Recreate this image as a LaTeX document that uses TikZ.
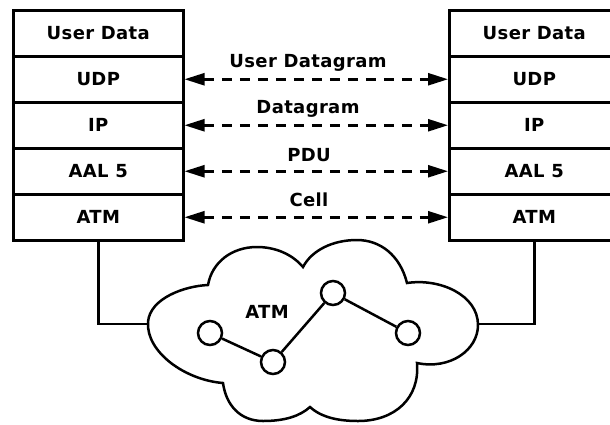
\documentclass[tikz,border=0pt]{standalone}
\usepackage{fontspec}
\setmainfont{DejaVu Sans Bold}[LetterSpace=2]
\usetikzlibrary{arrows.meta}
\begin{document}
\begin{tikzpicture}[x=1pt,y=-1pt,
  line width=2.5pt,
  txt/.style={font=\fontsize{18}{21}\selectfont},
  layer/.style={txt, draw, rectangle, minimum width=170pt, minimum height=46pt,
    inner sep=0pt, anchor=north west},
  peer/.style={dashed, dash pattern=on 10pt off 8pt,
    {Triangle[length=20pt,width=12pt]}-{Triangle[length=20pt,width=12pt]}},
  lbl/.style={txt, inner sep=0pt},
  hop/.style={draw, circle, minimum size=24pt, inner sep=0pt}]
\useasboundingbox (0,0) rectangle (610,424);

% left protocol stack
\node[layer] (lusr) at (12,9)   {User Data};
\node[layer] (ludp) at (12,55)  {UDP};
\node[layer] (lip)  at (12,101) {IP};
\node[layer] (laal) at (12,147) {AAL 5};
\node[layer] (latm) at (12,193) {ATM};

% right protocol stack
\node[layer] (rusr) at (448,9)   {User Data};
\node[layer] (rudp) at (448,55)  {UDP};
\node[layer] (rip)  at (448,101) {IP};
\node[layer] (raal) at (448,147) {AAL 5};
\node[layer] (ratm) at (448,193) {ATM};

% peer-to-peer exchanges
\draw[peer] (ludp.east) -- (rudp.west);
\draw[peer] (lip.east)  -- (rip.west);
\draw[peer] (laal.east) -- (raal.west);
\draw[peer] (latm.east) -- (ratm.west);
\node[lbl] (tudg) at (308,63)  {User Datagram};
\node[lbl] (tdg)  at (308,109) {Datagram};
\node[lbl] (tpdu) at (309,155) {PDU};
\node[lbl] (tcel) at (309,200) {Cell};

% ATM network cloud
\draw (208,285) .. controls (185,286) and (150,298) .. (148,322)
  .. controls (146,352) and (185,380) .. (223,383)
  .. controls (226,405) and (240,421) .. (263,421)
  .. controls (285,421) and (300,416) .. (310,407)
  .. controls (322,418) and (340,421) .. (358,421)
  .. controls (395,421) and (420,398) .. (417,363)
  .. controls (450,370) and (478,350) .. (478,325)
  .. controls (478,295) and (440,278) .. (407,283)
  .. controls (400,255) and (380,240) .. (357,240)
  .. controls (333,240) and (312,250) .. (303,267)
  .. controls (292,254) and (275,247) .. (257,247)
  .. controls (232,247) and (212,262) .. (208,285) -- cycle;
\coordinate (cl) at (148,324);
\coordinate (cr) at (478,324);
\node[lbl] (tatm) at (267,312) {ATM};

% switches inside the network
\node[hop] (s1) at (210,333) {};
\node[hop] (s2) at (273,362) {};
\node[hop] (s3) at (333,293) {};
\node[hop] (s4) at (408,333) {};
\draw (s1) -- (s2) -- (s3) -- (s4);

% host attachments
\draw (latm.south) |- (cl);
\draw (ratm.south) |- (cr);
\end{tikzpicture}
\end{document}
